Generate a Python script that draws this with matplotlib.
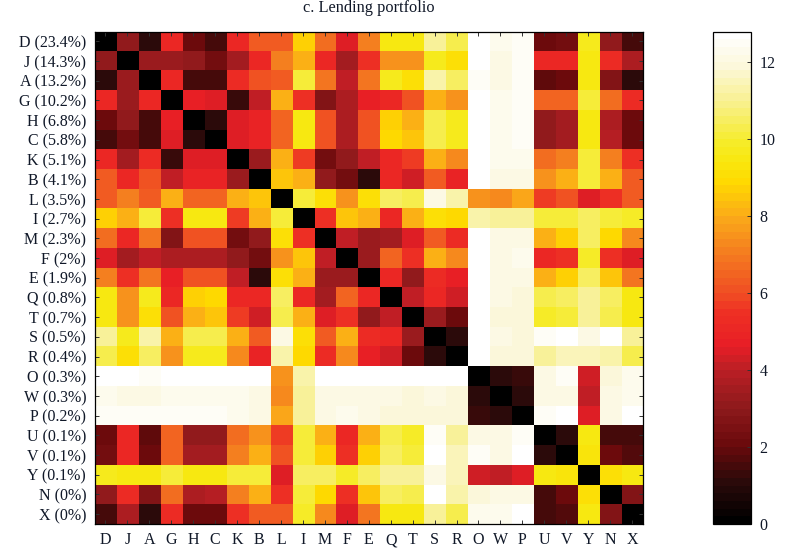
import numpy as np
import matplotlib
matplotlib.use("Agg")
import matplotlib.pyplot as plt
from matplotlib.colors import LinearSegmentedColormap

plt.rcParams["font.family"] = ["Liberation Serif", "DejaVu Serif"]

names = ["D", "J", "A", "G", "H", "C", "K", "B", "L", "I", "M", "F", "E",
         "Q", "T", "S", "R", "O", "W", "P", "U", "V", "Y", "N", "X"]
shares = ["23.4", "14.3", "13.2", "10.2", "6.8", "5.8", "5.1", "4.1", "3.5", "2.7", "2.3", "2", "1.9",
          "0.8", "0.7", "0.5", "0.4", "0.3", "0.3", "0.2", "0.1", "0.1", "0.1", "0", "0"]

# upper triangle of the distance matrix, each row starts right after the diagonal
upper = [
    [3, 1, 5, 2, 1.5, 5, 6.2, 6.2, 8.7, 6.7, 4.5, 7, 9.5, 9.5, 11, 10.3, 12.8, 12.3, 12.5, 2, 2.4, 9.7, 3, 1.5],
    [3.2, 3.3, 3, 2.3, 3.5, 5, 7, 8, 5, 3.5, 5.5, 7.6, 7.5, 9.7, 9, 12.8, 12.2, 12.6, 5, 5, 9.6, 5.2, 3.8],
    [5, 1.5, 1.5, 5.2, 6, 6.2, 10, 6.8, 4, 6.8, 9.7, 9, 11.3, 10.4, 12.6, 12.2, 12.6, 1.8, 2.1, 9.6, 2.7, 1],
    [4.7, 4.5, 1.3, 4.1, 8, 5.6, 2.8, 3.7, 4.7, 5, 6, 8, 7.5, 12.8, 12.3, 12.5, 6.5, 6.5, 10, 6.7, 5.3],
    [1, 4.6, 4.9, 6.5, 9.4, 6, 3.6, 6, 8.7, 8.2, 10.3, 9.7, 12.7, 12.3, 12.6, 3.1, 3.4, 9.6, 3.7, 2],
    [4.5, 4.9, 6.6, 9.4, 6.1, 3.7, 6.1, 8.8, 8.4, 10.3, 9.7, 12.8, 12.3, 12.6, 3.1, 3.5, 9.6, 3.9, 2.1],
    [3.3, 8, 5.8, 2.3, 3.1, 4, 5, 5.7, 8, 7.2, 12.8, 12.3, 12.3, 6.7, 7.1, 10, 7, 5.5],
    [8.4, 8, 3, 2.2, 1.2, 5, 4.2, 6.2, 4.9, 12.8, 12.2, 12.2, 7.6, 8, 10.1, 8, 6.2],
    [10, 9.2, 7.5, 9.2, 10.4, 10.3, 12.1, 11.3, 7.4, 7.2, 7.8, 5.8, 6.1, 4.5, 5.4, 6.2],
    [5.5, 8.6, 8.1, 5, 8.2, 9.1, 8.8, 11.3, 11.1, 11, 10, 10, 10.6, 10.1, 9.8],
    [4.1, 3.2, 3.4, 4.6, 6.2, 5.2, 12.8, 12.1, 12.1, 8, 8.7, 10.4, 8.8, 7.2],
    [3.3, 6.5, 5.5, 8.2, 7.2, 12.8, 12.1, 12.3, 5, 5.6, 9.9, 5.6, 4.6],
    [5, 3.1, 5.3, 4.8, 12.8, 12.1, 12, 8, 8.7, 10.6, 8.6, 6.9],
    [4.1, 5, 4.3, 12.8, 12, 11.9, 10.3, 10.4, 11, 10.5, 9.6],
    [3.2, 2, 12.8, 11.8, 11.8, 9.9, 10, 11, 10.3, 9.6],
    [1.2, 12.8, 12, 11.8, 12.5, 12.7, 12.2, 12.7, 11],
    [12.8, 11.9, 11.8, 11, 11.5, 11.4, 11.3, 10.3],
    [1.1, 1.4, 12, 12.4, 4.2, 11.9, 12.3],
    [1.2, 12, 12, 4.1, 12, 12.3],
    [12.6, 12.8, 4.5, 12.2, 12.7],
    [1, 9.4, 1.5, 1.5],
    [9.3, 2, 1.6],
    [9.2, 9.5],
    [2.7],
]

vmax = 12.8
stops = [(0, "#000000"), (1, "#2a0a0a"), (2, "#6b0a0c"), (3, "#8f1a1c"), (4, "#bc1f25"),
         (4.6, "#e81e26"), (5.5, "#ee3024"), (6, "#f04e23"), (7, "#f47a20"), (8, "#fbaa19"),
         (8.9, "#ffd900"), (9.5, "#f8e80f"), (10, "#f6ec2a"), (11, "#f8f08c"), (12, "#fcf8dc"),
         (12.8, "#ffffff")]
cmap = LinearSegmentedColormap.from_list("lending", [(v / vmax, c) for v, c in stops], N=64)

n = len(names)
mat = np.zeros((n, n))
for i, row in enumerate(upper):
    mat[i, i + 1:] = row
    mat[i + 1:, i] = row

W, H = 811, 553
fig = plt.figure(figsize=(W / 100, H / 100), dpi=100)
ax = fig.add_axes([94.5 / W, 1 - 524 / H, (643 - 94.5) / W, (524 - 31.5) / H])
im = ax.imshow(mat, cmap=cmap, vmin=0, vmax=vmax, aspect="auto", interpolation="nearest")

ax.set_xticks(range(n))
ax.set_xticklabels(names, fontsize=11.5, color="#101828")
ax.set_yticks(range(n))
ax.set_yticklabels([f"{a} ({b}%)" for a, b in zip(names, shares)], fontsize=11.5, color="#101828")
ax.tick_params(axis="both", direction="in", length=3, width=0.7, color="#333333",
               top=True, right=True, pad=6)
ax.set_title("c. Lending portfolio", fontsize=11.8, color="#101828", pad=14)
for s in ax.spines.values():
    s.set_linewidth(0.9)

cax = fig.add_axes([712.5 / W, 1 - 524 / H, (751 - 712.5) / W, (524 - 31.5) / H])
cb = fig.colorbar(im, cax=cax)
cb.set_ticks([0, 2, 4, 6, 8, 10, 12])
cb.ax.tick_params(direction="in", length=3, width=0.7, color="#333333", labelsize=11.5,
                  labelcolor="#101828", pad=6)
cb.outline.set_linewidth(0.9)

fig.savefig("out.png", dpi=100)
